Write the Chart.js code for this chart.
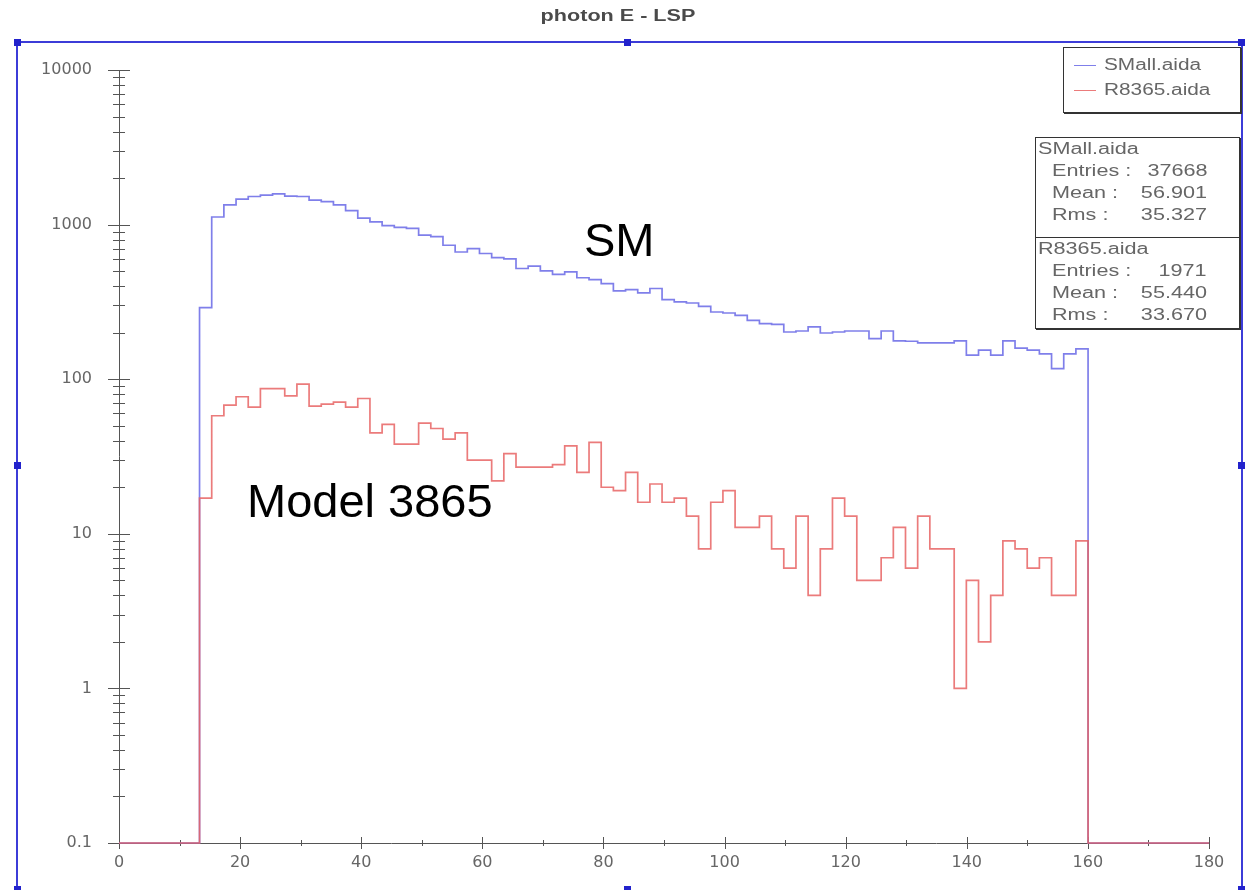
<!DOCTYPE html>
<html>
<head>
<meta charset="utf-8">
<script src="https://cdn.jsdelivr.net/npm/chart.js@4.4.1/dist/chart.umd.min.js"></script>
<style>
  html, body { margin: 0; padding: 0; background: #fff; }
  #wrap { position: relative; width: 1249px; height: 890px; overflow: hidden; font-family: "Liberation Sans", Arial, sans-serif; }
  #chart { position: absolute; left: 0; top: 0; }
  .frame { position: absolute; left: 16px; top: 41px; width: 1227px; height: 900px; border: 2px solid #3c3cd8; box-sizing: border-box; }
  .handle { position: absolute; width: 7px; height: 7px; background: #2222cc; }
  .title { position: absolute; left: 518px; top: 7px; width: 200px; text-align: center; font: bold 16px "Liberation Sans", Arial, sans-serif; color: #4a4a4a; transform: scaleX(1.35); transform-origin: center; }
  .note { position: absolute; font: 47px "Liberation Sans", Arial, sans-serif; color: #000; white-space: nowrap; }
  .legend { position: absolute; left: 1063px; top: 47px; width: 176px; height: 64px; border: 1px solid #333; box-shadow: 1px 1px 0 #333; background: #fff; }
  .legend .row { position: absolute; left: 10px; height: 20px; font-size: 16px; color: #666; white-space: nowrap; }
  .legend .swatch { display: inline-block; width: 22px; height: 0; border-top: 1.5px solid; vertical-align: middle; margin-right: 8px; }
  .legend .txt { display: inline-block; transform: scaleX(1.3); transform-origin: left center; }
  .stats { position: absolute; left: 1035px; width: 203px; border: 1px solid #333; box-shadow: 1px 1px 0 #333; background: #fff; font-size: 16px; color: #666; }
  .stats div { position: relative; height: 22px; line-height: 22px; white-space: nowrap; }
  .stats .head { position: absolute; left: 2px; transform: scaleX(1.35); transform-origin: left center; }
  .stats .lab { position: absolute; left: 16px; transform: scaleX(1.35); transform-origin: left center; }
  .stats .val { position: absolute; right: 32px; transform: scaleX(1.35); transform-origin: right center; }
</style>
</head>
<body>
<div id="wrap">
  <canvas id="chart" width="1249" height="890"></canvas>
  <div class="frame"></div>
  <div class="handle" style="left:14px;top:39px"></div>
  <div class="handle" style="left:624px;top:39px"></div>
  <div class="handle" style="left:1238px;top:39px"></div>
  <div class="handle" style="left:14px;top:462px"></div>
  <div class="handle" style="left:1238px;top:462px"></div>
  <div class="handle" style="left:14px;top:886px"></div>
  <div class="handle" style="left:624px;top:886px"></div>
  <div class="handle" style="left:1238px;top:886px"></div>
  <div class="title">photon E - LSP</div>
  <div class="note" style="left:584px;top:212px">SM</div>
  <div class="note" style="left:247px;top:473px">Model 3865</div>
  <div class="legend" id="legend"></div>
  <div class="stats" id="stats1" style="top:137px;height:99px"></div>
  <div class="stats" id="stats2" style="top:237px;height:90px"></div>
</div>
<script>
// Histogram binning (73 bins ending at 160)
const binStart = 13.3;
const binWidth = 2.01;
const xMin = 0;
const xMax = 180;
const yMin = 0.1;
const yMax = 10000;
const xTickStep = 20;
const yDecades = [0.1, 1, 10, 100, 1000, 10000];
const yTickLabels = ['0.1', '1', '10', '100', '1000', '10000'];

// Series (entries per bin)
const seriesNames = ['SMall.aida', 'R8365.aida'];
const smCounts = [
    290, 1120, 1340, 1460, 1520, 1550, 1580, 1530, 1520, 1440,
    1410, 1340, 1230, 1100, 1040, 985, 960, 945, 855, 835,
    735, 665, 700, 650, 612, 600, 520, 538, 502, 477,
    495, 453, 440, 415, 373, 380, 362, 386, 327, 316,
    311, 296, 272, 268, 259, 240, 229, 226, 202, 205,
    218, 199, 202, 205, 205, 183, 205, 177, 176, 172,
    172, 172, 177, 143, 154, 143, 177, 159, 154, 146,
    117, 146, 157
];
const r8365Counts = [
    17, 58, 68, 77, 66, 87, 87, 78, 93, 67,
    69, 71, 66, 75, 45, 51, 38, 38, 52, 48,
    41, 45, 30, 30, 22, 33, 27, 27, 27, 28,
    37, 25, 39, 20, 19, 25, 16, 21, 16, 17,
    13, 8, 16, 19, 11, 11, 13, 8, 6, 13,
    4, 8, 17, 13, 5, 5, 7, 11, 6, 13,
    8, 8, 1, 5, 2, 4, 9, 8, 6, 7,
    4, 4, 9
];

// Statistics boxes
const statLabels = ['Entries :', 'Mean :', 'Rms :'];
const smStats = ['37668', '56.901', '35.327'];
const r8365Stats = ['1971', '55.440', '33.670'];

const smColor = 'rgba(105, 105, 230, 0.85)';
const r8365Color = 'rgba(232, 100, 100, 0.85)';

// Build step points (left bin edges), empty bins sit on the axis minimum
function histPoints(counts) {
    const pts = [{x: xMin, y: yMin}];
    counts.forEach((c, i) => {
        pts.push({x: binStart + i * binWidth, y: c > 0 ? c : yMin});
    });
    pts.push({x: binStart + counts.length * binWidth, y: yMin});
    pts.push({x: xMax, y: yMin});
    return pts;
}

function isDecade(v) {
    const l = Math.log10(v);
    return Math.abs(l - Math.round(l)) < 1e-6;
}

// Axis lines + crossing tick marks
const axesPlugin = {
    id: 'axes',
    beforeDatasetsDraw(chart) {
        const {ctx, chartArea, scales} = chart;
        const x = scales.x, y = scales.y;
        ctx.save();
        ctx.strokeStyle = '#555';
        ctx.lineWidth = 1;
        ctx.beginPath();
        ctx.moveTo(chartArea.left + 0.5, chartArea.top);
        ctx.lineTo(chartArea.left + 0.5, chartArea.bottom);
        ctx.moveTo(chartArea.left, chartArea.bottom + 0.5);
        ctx.lineTo(chartArea.right, chartArea.bottom + 0.5);
        y.ticks.forEach(t => {
            const py = Math.round(y.getPixelForValue(t.value)) + 0.5;
            const len = isDecade(t.value) ? 11 : 6;
            ctx.moveTo(chartArea.left - len, py);
            ctx.lineTo(chartArea.left + len, py);
        });
        for (let v = xMin; v <= xMax; v += xTickStep / 2) {
            const px = Math.round(x.getPixelForValue(v)) + 0.5;
            const len = v % xTickStep === 0 ? 6 : 3;
            ctx.moveTo(px, chartArea.bottom - len);
            ctx.lineTo(px, chartArea.bottom + len);
        }
        ctx.stroke();
        ctx.restore();
    }
};

const ctx = document.getElementById('chart').getContext('2d');
new Chart(ctx, {
    type: 'line',
    data: {
        datasets: [{
            label: seriesNames[0],
            data: histPoints(smCounts),
            borderColor: smColor,
            borderWidth: 1.7,
            stepped: 'before',
            pointRadius: 0,
            fill: false,
            clip: false,
            order: 1
        }, {
            label: seriesNames[1],
            data: histPoints(r8365Counts),
            borderColor: r8365Color,
            borderWidth: 1.7,
            stepped: 'before',
            pointRadius: 0,
            fill: false,
            clip: false,
            order: 0
        }]
    },
    options: {
        responsive: false,
        animation: false,
        layout: { padding: { left: 0, top: 70, right: 40, bottom: 0 } },
        plugins: {
            legend: { display: false },
            tooltip: { enabled: false }
        },
        scales: {
            x: {
                type: 'linear',
                min: xMin,
                max: xMax,
                grid: { display: false, drawTicks: false },
                border: { display: false },
                ticks: {
                    stepSize: xTickStep,
                    padding: 10,
                    color: '#666',
                    font: { family: 'DejaVu Sans', size: 16 }
                },
                afterFit(scale) { scale.height = 47; }
            },
            y: {
                type: 'logarithmic',
                min: yMin,
                max: yMax,
                grid: { display: false, drawTicks: false },
                border: { display: false },
                afterBuildTicks(scale) {
                    const ticks = [];
                    yDecades.forEach(d => {
                        if (d === yMax) { ticks.push({value: d}); return; }
                        for (let m = 1; m <= 9; m++) ticks.push({value: +(d * m).toPrecision(3)});
                    });
                    scale.ticks = ticks;
                },
                ticks: {
                    autoSkip: false,
                    padding: 27,
                    color: '#666',
                    font: { family: 'DejaVu Sans', size: 16 },
                    callback(value) {
                        const i = yDecades.findIndex(d => Math.abs(d - value) < d * 1e-6);
                        return i >= 0 ? yTickLabels[i] : '';
                    }
                },
                afterFit(scale) { scale.width = 119; }
            }
        }
    },
    plugins: [axesPlugin]
});

// Legend box
const legend = document.getElementById('legend');
[[seriesNames[0], smColor], [seriesNames[1], r8365Color]].forEach((item, i) => {
    const row = document.createElement('div');
    row.className = 'row';
    row.style.top = (8 + i * 25) + 'px';
    const sw = document.createElement('span');
    sw.className = 'swatch';
    sw.style.borderColor = item[1];
    const txt = document.createElement('span');
    txt.className = 'txt';
    txt.textContent = item[0];
    row.appendChild(sw);
    row.appendChild(txt);
    legend.appendChild(row);
});

// Stats boxes
function fillStats(box, name, values) {
    const head = document.createElement('div');
    const h = document.createElement('span');
    h.className = 'head';
    h.textContent = name;
    head.appendChild(h);
    box.appendChild(head);
    statLabels.forEach((lab, i) => {
        const line = document.createElement('div');
        const l = document.createElement('span');
        l.className = 'lab';
        l.textContent = lab;
        const v = document.createElement('span');
        v.className = 'val';
        v.textContent = values[i];
        line.appendChild(l);
        line.appendChild(v);
        box.appendChild(line);
    });
}
fillStats(document.getElementById('stats1'), seriesNames[0], smStats);
fillStats(document.getElementById('stats2'), seriesNames[1], r8365Stats);
</script>
</body>
</html>
